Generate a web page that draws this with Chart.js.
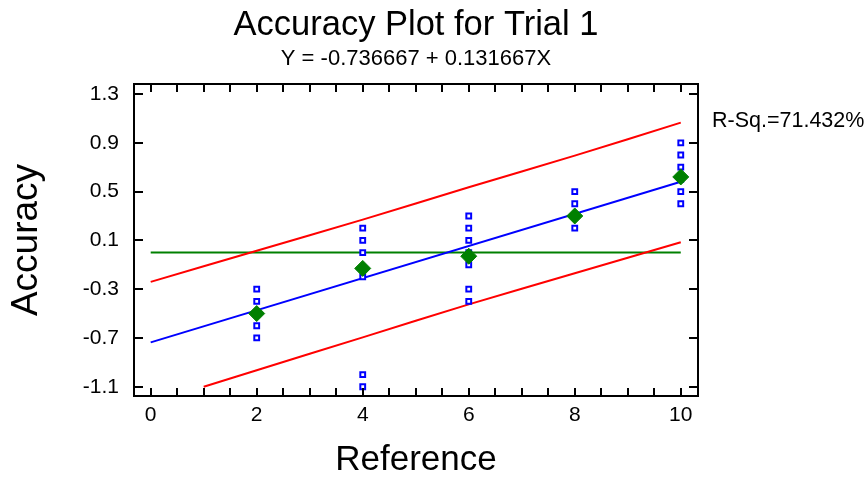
<!DOCTYPE html>
<html>
<head>
<meta charset="utf-8">
<script src="https://cdn.jsdelivr.net/npm/chart.js@4/dist/chart.umd.min.js"></script>
<style>
html,body{margin:0;padding:0;background:#fff;}
#wrap{width:866px;height:478px;}
</style>
</head>
<body>
<div id="wrap"><canvas id="c" width="866" height="478"></canvas></div>
<script>
// ---- text ----
const chartTitle = 'Accuracy Plot for Trial 1';
const chartSubtitle = 'Y = -0.736667 + 0.131667X';
const rSquaredLabel = 'R-Sq.=71.432%';
const xAxisTitle = 'Reference';
const yAxisTitle = 'Accuracy';

// ---- ticks ----
const xTickValues = [0, 0.5, 1, 1.5, 2, 2.5, 3, 3.5, 4, 4.5, 5, 5.5, 6, 6.5, 7, 7.5, 8, 8.5, 9, 9.5, 10];
const xLabelValues = [0, 2, 4, 6, 8, 10];
const yTickValues = [-1.1, -0.7, -0.3, 0.1, 0.5, 0.9, 1.3];

// ---- observations ----
const obsX = [2, 2, 2, 2, 2,
              4, 4, 4, 4, 4, 4,
              6, 6, 6, 6, 6, 6, 6,
              8, 8, 8, 8,
              10, 10, 10, 10, 10, 10];
const obsY = [-0.3, -0.4, -0.5, -0.6, -0.7,
              0.2, 0.1, 0.0, -0.2, -1.0, -1.1,
              0.3, 0.2, 0.1, 0.0, -0.1, -0.3, -0.4,
              0.5, 0.4, 0.3, 0.2,
              0.9, 0.8, 0.7, 0.6, 0.5, 0.4];

// ---- means ----
const meanX = [2, 4, 6, 8, 10];
const meanY = [-0.5, -0.13, -0.03, 0.3, 0.62];

// ---- fitted line ----
const fitX = [0, 10];
const fitY = [-0.736667, 0.58];

// ---- prediction limits ----
const upperX = [0, 2, 4, 6, 8, 10];
const upperY = [-0.24, 0.015, 0.27, 0.535, 0.795, 1.065];
const lowerX = [1, 2, 4, 6, 8, 10];
const lowerY = [-1.10, -0.965, -0.695, -0.425, -0.17, 0.085];

// ---- zero reference line ----
const zeroX = [0, 10];
const zeroY = [0, 0];

const FONT = "'Liberation Sans', Arial, Helvetica, sans-serif";
Chart.defaults.font.family = FONT;
Chart.defaults.color = '#000';

const pts = (xs, ys) => xs.map((x, i) => ({ x: x, y: ys[i] }));

const framePlugin = {
  id: 'frame',
  afterDatasetsDraw(chart) {
    const { ctx, chartArea: { left, right, top, bottom }, scales: { x, y } } = chart;
    ctx.save();
    ctx.strokeStyle = '#000';
    ctx.lineWidth = 2;
    ctx.strokeRect(left, top, right - left, bottom - top);
    ctx.beginPath();
    xTickValues.forEach(v => {
      const px = Math.round(x.getPixelForValue(v));
      ctx.moveTo(px, bottom); ctx.lineTo(px, bottom - 8);
      ctx.moveTo(px, top); ctx.lineTo(px, top + 8);
    });
    yTickValues.forEach(v => {
      const py = Math.round(y.getPixelForValue(v));
      ctx.moveTo(left, py); ctx.lineTo(left + 9, py);
      ctx.moveTo(right, py); ctx.lineTo(right - 9, py);
    });
    ctx.stroke();
    ctx.font = '21.5px ' + FONT;
    ctx.fillStyle = '#000';
    ctx.textAlign = 'left';
    ctx.textBaseline = 'middle';
    ctx.fillText(rSquaredLabel, right + 14, top + 37);
    ctx.restore();
  }
};

new Chart(document.getElementById('c'), {
  type: 'scatter',
  data: {
    datasets: [
      {
        label: 'Means', data: pts(meanX, meanY), order: 0,
        pointStyle: 'rectRot', pointRadius: 8, pointHoverRadius: 8,
        backgroundColor: '#008000', borderColor: '#008000', borderWidth: 1, showLine: false
      },
      {
        label: 'Observations', data: pts(obsX, obsY), order: 1,
        pointStyle: 'rect', pointRadius: 3.4, pointHoverRadius: 3.4,
        backgroundColor: '#ffffff', borderColor: '#0000ff', borderWidth: 2, showLine: false
      },
      {
        label: 'Fit', data: pts(fitX, fitY), order: 2,
        showLine: true, pointRadius: 0, borderColor: '#0000ff', borderWidth: 2, fill: false
      },
      {
        label: 'Upper', data: pts(upperX, upperY), order: 3,
        showLine: true, pointRadius: 0, borderColor: '#ff0000', borderWidth: 2, fill: false, tension: 0.2
      },
      {
        label: 'Lower', data: pts(lowerX, lowerY), order: 3,
        showLine: true, pointRadius: 0, borderColor: '#ff0000', borderWidth: 2, fill: false, tension: 0.2
      },
      {
        label: 'Zero', data: pts(zeroX, zeroY), order: 4,
        showLine: true, pointRadius: 0, borderColor: '#008000', borderWidth: 2, fill: false
      }
    ]
  },
  options: {
    responsive: false,
    animation: false,
    devicePixelRatio: 1,
    events: [],
    layout: { padding: { left: 0, right: 168, top: 0, bottom: 0 } },
    plugins: {
      legend: { display: false },
      tooltip: { enabled: false },
      title: {
        display: true, text: chartTitle, fullSize: false, color: '#000',
        font: { size: 34.5, weight: 'normal', lineHeight: 1.2 },
        padding: { top: 4.3, bottom: 0.1 }
      },
      subtitle: {
        display: true, text: chartSubtitle, fullSize: false, color: '#000',
        font: { size: 22, weight: 'normal', lineHeight: 1.2 },
        padding: { top: 0, bottom: 11.8 }
      }
    },
    scales: {
      x: {
        type: 'linear', position: 'bottom',
        min: -0.315, max: 10.325,
        afterFit: s => { s.height = 82; },
        afterBuildTicks: s => { s.ticks = xTickValues.map(v => ({ value: v })); },
        grid: { display: false, drawTicks: false },
        border: { display: false },
        ticks: {
          autoSkip: false, maxRotation: 0, minRotation: 0, padding: 7,
          font: { size: 21 }, color: '#000',
          callback: v => xLabelValues.includes(v) ? String(v) : ''
        },
        title: {
          display: true, text: xAxisTitle, color: '#000',
          font: { size: 35, lineHeight: 1 }, padding: { top: 0, bottom: 0 }
        }
      },
      y: {
        type: 'linear', position: 'left',
        min: -1.176, max: 1.382,
        afterFit: s => { s.width = 134; },
        afterBuildTicks: s => { s.ticks = yTickValues.map(v => ({ value: v })); },
        grid: { display: false, drawTicks: false },
        border: { display: false },
        ticks: {
          autoSkip: false, padding: 15,
          font: { size: 21 }, color: '#000',
          callback: v => Number(v).toFixed(1)
        },
        title: {
          display: true, text: yAxisTitle, color: '#000',
          font: { size: 37, lineHeight: 1 }, padding: { top: 8.5, bottom: 0 }
        }
      }
    }
  },
  plugins: [framePlugin]
});
</script>
</body>
</html>
